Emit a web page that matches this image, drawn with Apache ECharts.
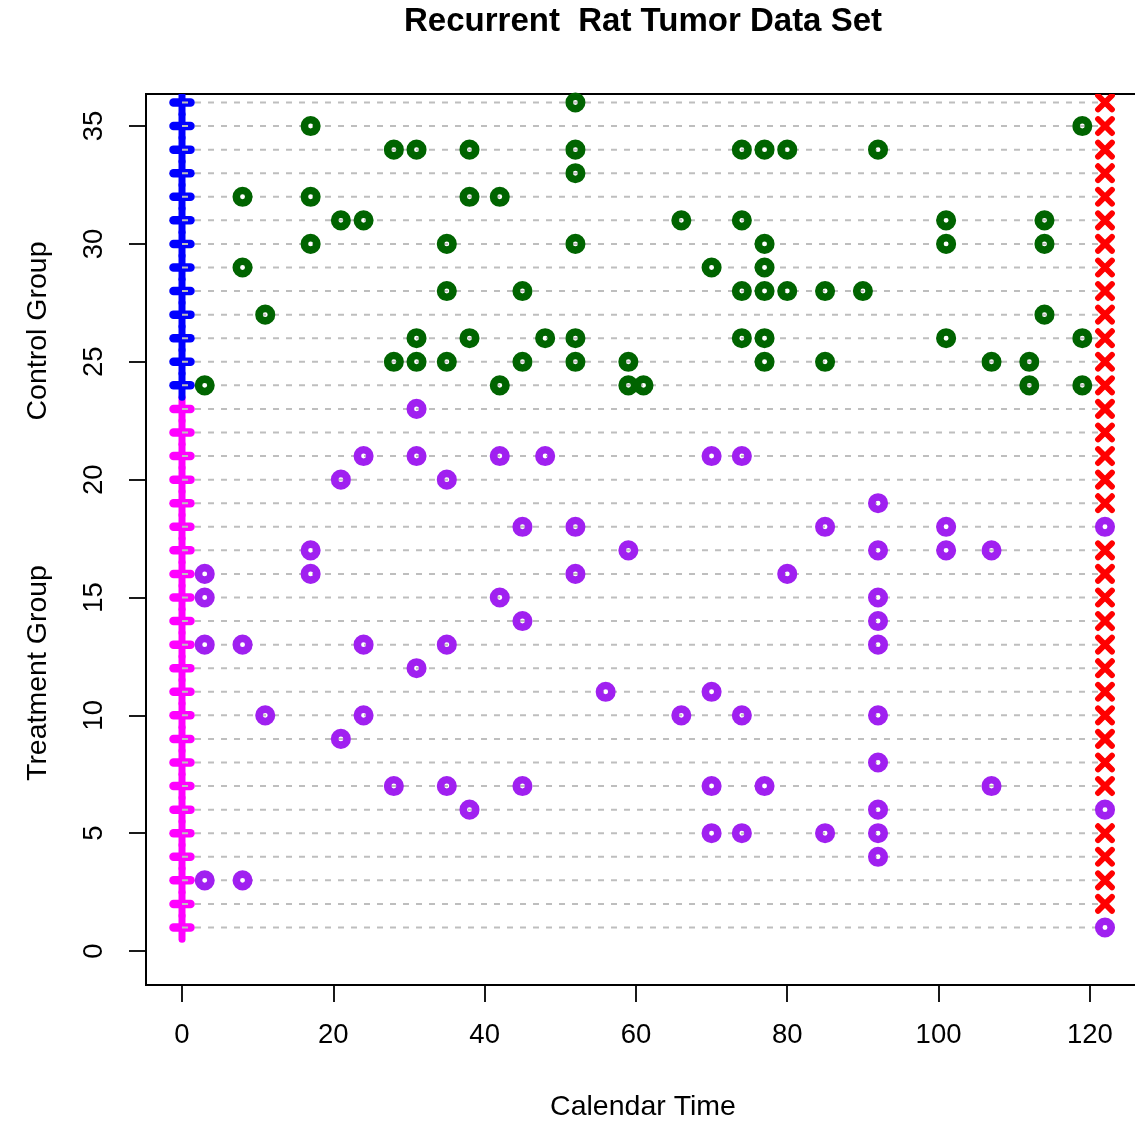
<!DOCTYPE html>
<html><head><meta charset="utf-8">
<script src="https://cdn.jsdelivr.net/npm/echarts@6/dist/echarts.min.js"></script>
<style>html,body{margin:0;padding:0;background:#fff;overflow:hidden;width:1135px;height:1122px}#c{width:1160px;height:1122px}</style>
</head><body><div id="c"></div>
<script>
// ---- data ----
const chartTitle = 'Recurrent  Rat Tumor Data Set';
const xTitle = 'Calendar Time';
const controlLabel = 'Control Group';
const treatmentLabel = 'Treatment Group';
const xTicks = [0, 20, 40, 60, 80, 100, 120];
const yTicks = [0, 5, 10, 15, 20, 25, 30, 35];
const startTime = 0;
const followUpEnd = 122;
// treatment group: rows 1..23 (tumour times)
const treatmentTimes = [
  [122],                       // 1
  [],                          // 2
  [3, 8],                      // 3
  [92],                        // 4
  [70, 74, 85, 92],            // 5
  [38, 92, 122],               // 6
  [28, 35, 45, 70, 77, 107],   // 7
  [92],                        // 8
  [21],                        // 9
  [11, 24, 66, 74, 92],        // 10
  [56, 70],                    // 11
  [31],                        // 12
  [3, 8, 24, 35, 92],          // 13
  [45, 92],                    // 14
  [3, 42, 92],                 // 15
  [3, 17, 52, 80],             // 16
  [17, 59, 92, 101, 107],      // 17
  [45, 52, 85, 101, 122],      // 18
  [92],                        // 19
  [21, 35],                    // 20
  [24, 31, 42, 48, 70, 74],    // 21
  [],                          // 22
  [31]                         // 23
];
// control group: rows 24..36
const controlTimes = [
  [3, 42, 59, 61, 112, 119],                  // 24
  [28, 31, 35, 45, 52, 59, 77, 85, 107, 112], // 25
  [31, 38, 48, 52, 74, 77, 101, 119],         // 26
  [11, 114],                                  // 27
  [35, 45, 74, 77, 80, 85, 90],               // 28
  [8, 70, 77],                                // 29
  [17, 35, 52, 77, 101, 114],                 // 30
  [21, 24, 66, 74, 101, 114],                 // 31
  [8, 17, 38, 42],                            // 32
  [52],                                       // 33
  [28, 31, 38, 52, 74, 77, 80, 92],           // 34
  [17, 119],                                  // 35
  [52]                                        // 36
];

// ---- build ----
const FONT = '"Liberation Sans", Arial, Helvetica, sans-serif';
const nT = treatmentTimes.length;
const allTimes = treatmentTimes.concat(controlTimes);
const rows = allTimes.map((_, i) => i + 1);
const treatPts = [], ctrlPts = [], censorPts = [];
allTimes.forEach((ts, i) => {
  const r = i + 1;
  ts.forEach(t => (r <= nT ? treatPts : ctrlPts).push([t, r]));
  if (ts.indexOf(followUpEnd) < 0) censorPts.push([followUpEnd, r]);
});
const baseT = rows.filter(r => r <= nT).map(r => [startTime, r]);
const baseC = rows.filter(r => r > nT).map(r => [startTime, r]);

function baseRender(color) {
  return function (params, api) {
    const r = api.value(1), x = api.value(0);
    const top = api.coord([x, r + 0.5]), bot = api.coord([x, r - 0.5]), c = api.coord([x, r]);
    return {
      type: 'group', children: [
        { type: 'line', shape: { x1: top[0], y1: top[1], x2: bot[0], y2: bot[1] },
          style: { stroke: color, lineWidth: 7, lineCap: 'round' } },
        { type: 'line', shape: { x1: c[0] - 8.5, y1: c[1], x2: c[0] + 8.5, y2: c[1] },
          style: { stroke: color, lineWidth: 8.5, lineCap: 'round' } }
      ]
    };
  };
}

const chart = echarts.init(document.getElementById('c'), null, { renderer: 'canvas' });
chart.setOption({
  animation: false,
  backgroundColor: '#fff',
  textStyle: { fontFamily: FONT },
  grid: { left: 146, top: 94, width: 995, height: 891, show: true, borderColor: '#000', borderWidth: 2, backgroundColor: 'transparent' },
  xAxis: {
    type: 'value', min: -4.76, max: 126.76,
    axisLine: { show: false, onZero: false }, splitLine: { show: false },
    axisTick: { show: true, customValues: xTicks, length: 17, lineStyle: { color: '#000', width: 1.8 } },
    axisLabel: { customValues: xTicks, margin: 36, fontSize: 27.5, color: '#000', fontFamily: FONT }
  },
  yAxis: {
    type: 'value', min: -1.44, max: 36.36,
    axisLine: { show: false, onZero: false }, splitLine: { show: false },
    axisTick: { show: true, customValues: yTicks, length: 17, lineStyle: { color: '#000', width: 1.8 } },
    axisLabel: { customValues: yTicks, rotate: 90, margin: 38, fontSize: 27.5, color: '#000', fontFamily: FONT }
  },
  graphic: [
    { type: 'text', x: 643, y: 22, style: { text: chartTitle, fontSize: 33, fontWeight: 'bold', fontFamily: FONT, fill: '#000', textAlign: 'center', textVerticalAlign: 'middle' } },
    { type: 'text', x: 643, y: 1107, style: { text: xTitle, fontSize: 28.5, fontFamily: FONT, fill: '#000', textAlign: 'center', textVerticalAlign: 'middle' } },
    { type: 'text', x: 38, y: 331, rotation: Math.PI / 2, style: { text: controlLabel, fontSize: 28.5, fontFamily: FONT, fill: '#000', textAlign: 'center', textVerticalAlign: 'middle' } },
    { type: 'text', x: 38, y: 673, rotation: Math.PI / 2, style: { text: treatmentLabel, fontSize: 28.5, fontFamily: FONT, fill: '#000', textAlign: 'center', textVerticalAlign: 'middle' } }
  ],
  series: [
    { type: 'custom', name: 'baseT', z: 1, clip: true, data: baseT, renderItem: baseRender('#FF00FF') },
    { type: 'custom', name: 'baseC', z: 1, clip: true, data: baseC, renderItem: baseRender('#0000FF') },
    { type: 'custom', name: 'follow', z: 2, clip: true, data: rows.map(r => [startTime, r]),
      renderItem: function (params, api) {
        const r = api.value(1);
        const a = api.coord([startTime, r]), b = api.coord([followUpEnd, r]);
        return { type: 'line', shape: { x1: a[0], y1: a[1], x2: b[0], y2: b[1] },
          style: { stroke: '#bebebe', lineWidth: 2, lineDash: [6, 7] } };
      } },
    { type: 'scatter', name: 'treat', z: 3, data: treatPts, symbol: 'circle', symbolSize: 12.5,
      itemStyle: { color: 'rgba(0,0,0,0)', borderColor: '#A020F0', borderWidth: 7.6, opacity: 1 } },
    { type: 'scatter', name: 'ctrl', z: 3, data: ctrlPts, symbol: 'circle', symbolSize: 12.5,
      itemStyle: { color: 'rgba(0,0,0,0)', borderColor: '#006400', borderWidth: 7.6, opacity: 1 } },
    { type: 'custom', name: 'censor', z: 4, clip: true, data: censorPts,
      renderItem: function (params, api) {
        const c = api.coord([api.value(0), api.value(1)]);
        const d = 7;
        return { type: 'group', children: [
          { type: 'line', shape: { x1: c[0] - d, y1: c[1] - d, x2: c[0] + d, y2: c[1] + d }, style: { stroke: '#FF0000', lineWidth: 5.8, lineCap: 'round' } },
          { type: 'line', shape: { x1: c[0] - d, y1: c[1] + d, x2: c[0] + d, y2: c[1] - d }, style: { stroke: '#FF0000', lineWidth: 5.8, lineCap: 'round' } }
        ] };
      } }
  ]
});
</script>
</body></html>
